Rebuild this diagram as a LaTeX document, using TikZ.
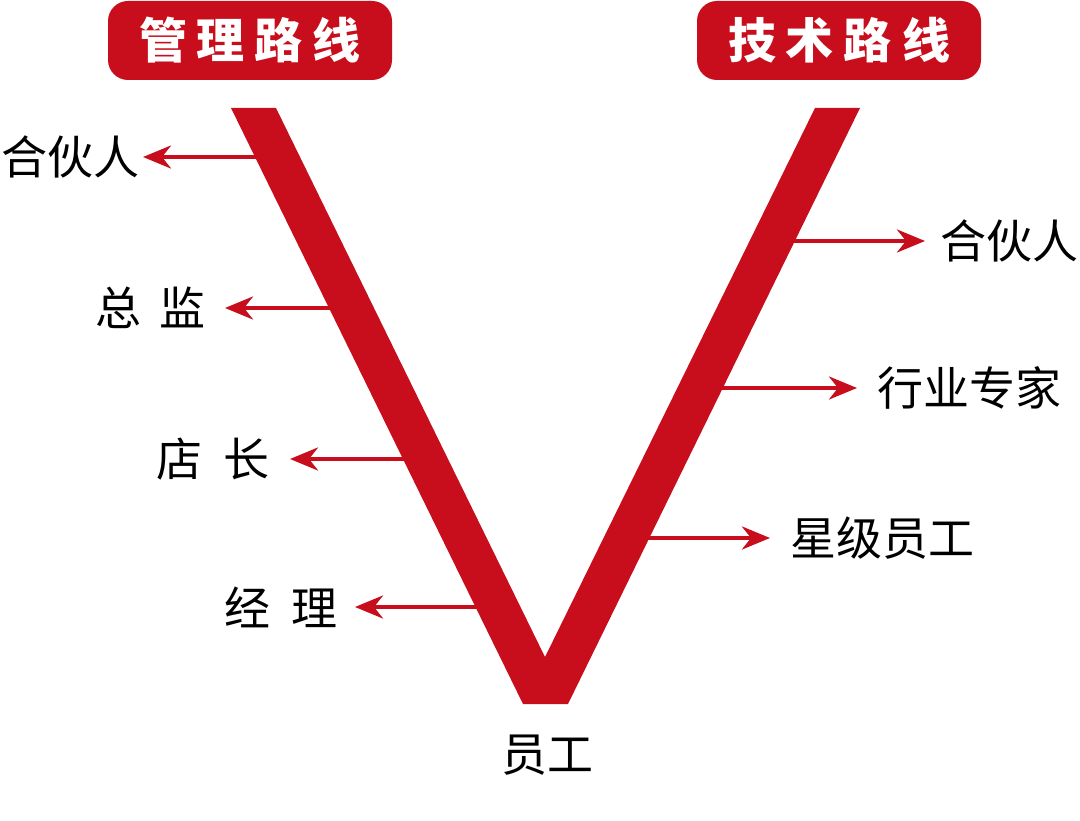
\documentclass[tikz,border=0pt]{standalone}
\usepackage{fontspec}
\newfontfamily\cjk{Noto Sans CJK SC}
\usepackage{xcolor}
\usetikzlibrary{arrows.meta}
\definecolor{vred}{RGB}{200,14,28}

\begin{document}
\begin{tikzpicture}[x=1pt,y=-1pt,
  head/.style={fill=vred,rounded corners=20pt,minimum width=284pt,minimum height=79pt,text=white,font=\cjk\bfseries\fontsize{48pt}{52pt}\selectfont},
  lab/.style={inner sep=0pt,font=\cjk\fontsize{46pt}{50pt}\selectfont},
  arr/.style={draw=vred,line width=4pt,-{Stealth[length=28pt,width=23pt,inset=9pt]}}]
\useasboundingbox (0,0) rectangle (1080,821);
\node[head] (mgmt) at (250,40.5) {管\hspace{10pt}理\hspace{10pt}路\hspace{10pt}线};
\node[head] (tech) at (839,40.5) {技\hspace{10pt}术\hspace{10pt}路\hspace{10pt}线};
% left side
\coordinate (ml1) at (278,157);
\coordinate (ml2) at (352,308);
\coordinate (ml3) at (426,459);
\coordinate (ml4) at (498,607);
\node[lab,anchor=east] (l1) at (140,157) {合伙人};
\node[lab,anchor=east] (l2) at (206,308) {总\hspace{18pt}监};
\node[lab,anchor=east] (l3) at (270,459) {店\hspace{21pt}长};
\node[lab,anchor=east] (l4) at (338,607) {经\hspace{21pt}理};
\draw[arr,shorten >=3pt] (ml1) -- (l1);
\draw[arr,shorten >=19pt] (ml2) -- (l2);
\draw[arr,shorten >=20pt] (ml3) -- (l3);
\draw[arr,shorten >=17pt] (ml4) -- (l4);
% right side
\coordinate (mr1) at (772,241);
\coordinate (mr2) at (700,388);
\coordinate (mr3) at (627,538);
\node[lab,anchor=west] (r1) at (940,241) {合伙人};
\node[lab,anchor=west] (r2) at (877,388) {行业专家};
\node[lab,anchor=west] (r3) at (790,538) {星级员工};
\draw[arr,shorten >=15pt] (mr1) -- (r1);
\draw[arr,shorten >=20pt] (mr2) -- (r2);
\draw[arr,shorten >=20pt] (mr3) -- (r3);
% the V
\fill[vred] (231,108) -- (276,108) -- (545,657) -- (815,108) -- (860,108) -- (568,704) -- (523,704) -- cycle;
\node[lab] (base) at (547,755) {员工};
\end{tikzpicture}
\end{document}
